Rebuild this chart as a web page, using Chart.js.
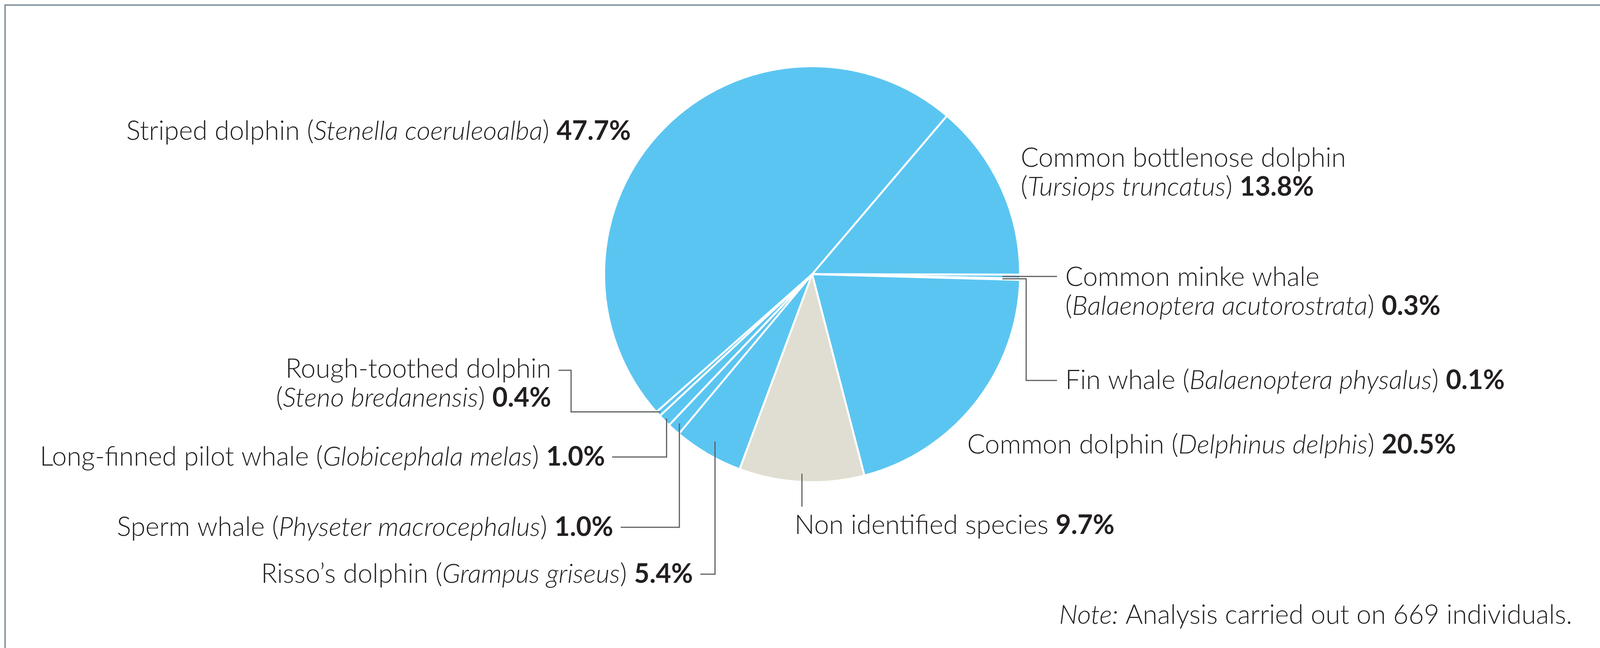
<!DOCTYPE html>
<html>
<head>
<meta charset="utf-8">
<title>Cetacean species</title>
<script src="https://cdn.jsdelivr.net/npm/chart.js@4.4.1/dist/chart.umd.min.js"></script>
<style>
  html, body { margin: 0; padding: 0; background: #fff; overflow: hidden; }
  #frame {
    position: absolute; left: 11px; top: 11px; width: 4119px; height: 1700px;
    border: 4px solid #8a97a1; border-bottom: none; box-sizing: border-box;
  }
  #pie { position: absolute; left: 0; top: 0; }
</style>
</head>
<body>
<div id="frame"></div>
<canvas id="pie" width="4152" height="1659"></canvas>
<script>
// species, clockwise starting at the bottlenose slice
const commonNames = ['Common bottlenose dolphin', 'Common minke whale', 'Fin whale', 'Common dolphin',
    'Non identified species', 'Risso\u2019s dolphin', 'Sperm whale', 'Long-finned pilot whale',
    'Rough-toothed dolphin', 'Striped dolphin'];
const latinNames = ['Tursiops truncatus', 'Balaenoptera acutorostrata', 'Balaenoptera physalus', 'Delphinus delphis',
    '', 'Grampus griseus', 'Physeter macrocephalus', 'Globicephala melas',
    'Steno bredanensis', 'Stenella coeruleoalba'];
const shares = [13.8, 0.3, 0.1, 20.5, 9.7, 5.4, 1.0, 1.0, 0.4, 47.7];
const identified = [true, true, true, true, false, true, true, true, true, true];
const noteText = 'Analysis carried out on 669 individuals.';

const BLUE = '#5bc5f1';
const BEIGE = '#e0ded2';
const TEXT = '#231f20';
const LEADER = '#5f6062';
const FAMILY = 'Lato, "Open Sans", sans-serif';
const FS = 68;

// label placement (canvas px): align, anchor x, centre y of first line, break after common name
const labelPos = [
    { align: 'left', x: 2613, y: 405, wrap: true },
    { align: 'left', x: 2727, y: 710, wrap: true },
    { align: 'left', x: 2727, y: 974 },
    { align: 'left', x: 2476, y: 1139 },
    { align: 'left', x: 2034, y: 1345 },
    { align: 'right', x: 1774, y: 1470 },
    { align: 'right', x: 1570, y: 1350 },
    { align: 'right', x: 1549, y: 1170 },
    { align: 'right', x: 1411, y: 945, wrap: true },
    { align: 'right', x: 1615, y: 336 }
];
// leader lines, f = fraction of the radius where the line touches the slice
const leaders = [
    null,
    { kind: 'h', f: 0.915, x2: 2706 },
    { kind: 'elbow', f: 0.915, vx: 2627, ty: 974, x2: 2706 },
    null,
    { kind: 'v', f: 0.96, y2: 1297 },
    { kind: 'up', f: 0.93, ty: 1470, x2: 1793 },
    { kind: 'up', f: 0.96, ty: 1350, x2: 1589 },
    { kind: 'up', f: 0.985, ty: 1170, x2: 1567 },
    { kind: 'rough', f: 0.985, vx: 1462, ty: 948, x2: 1430 },
    null
];

function fontFor(style) {
    if (style === 'b') return '700 ' + FS + 'px ' + FAMILY;
    if (style === 'i') return 'italic 300 ' + FS + 'px ' + FAMILY;
    return '300 ' + FS + 'px ' + FAMILY;
}

function labelLines(i) {
    const value = [shares[i].toFixed(1) + '%', 'b'];
    if (!latinNames[i]) return [[[commonNames[i] + ' ', 'n'], value]];
    const latin = [['(', 'n'], [latinNames[i], 'i'], [') ', 'n'], value];
    if (labelPos[i].wrap) return [[[commonNames[i], 'n']], latin];
    return [[[commonNames[i] + ' ', 'n']].concat(latin)];
}

function drawRich(ctx, segs, x, y, align) {
    let total = 0;
    const widths = segs.map(s => {
        ctx.font = fontFor(s[1]);
        const w = ctx.measureText(s[0]).width;
        total += w;
        return w;
    });
    let cx = align === 'right' ? x - total : x;
    segs.forEach((s, k) => {
        ctx.font = fontFor(s[1]);
        ctx.fillText(s[0], cx, y);
        cx += widths[k];
    });
}

const labelPlugin = {
    id: 'pieLabels',
    afterDatasetsDraw(chart) {
        const ctx = chart.ctx;
        const arcs = chart.getDatasetMeta(0).data;
        ctx.save();
        // leader lines
        ctx.strokeStyle = LEADER;
        ctx.lineWidth = 3;
        arcs.forEach((arc, i) => {
            const l = leaders[i];
            if (!l) return;
            const p = arc.getProps(['x', 'y', 'startAngle', 'endAngle', 'outerRadius'], true);
            const a = (p.startAngle + p.endAngle) / 2;
            const px = p.x + Math.cos(a) * p.outerRadius * l.f;
            const py = p.y + Math.sin(a) * p.outerRadius * l.f;
            ctx.beginPath();
            ctx.moveTo(px, py);
            if (l.kind === 'h') {
                ctx.lineTo(l.x2, py);
            } else if (l.kind === 'elbow') {
                ctx.lineTo(l.vx, py);
                ctx.lineTo(l.vx, l.ty);
                ctx.lineTo(l.x2, l.ty);
            } else if (l.kind === 'v') {
                ctx.lineTo(px, l.y2);
            } else if (l.kind === 'up') {
                ctx.lineTo(px, l.ty);
                ctx.lineTo(l.x2, l.ty);
            } else if (l.kind === 'rough') {
                ctx.lineTo(l.vx, py);
                ctx.lineTo(l.vx, l.ty);
                ctx.lineTo(l.x2, l.ty);
            }
            ctx.stroke();
        });
        // labels
        ctx.fillStyle = TEXT;
        ctx.textBaseline = 'middle';
        ctx.textAlign = 'left';
        arcs.forEach((arc, i) => {
            const pos = labelPos[i];
            labelLines(i).forEach((line, k) => {
                drawRich(ctx, line, pos.x, pos.y + k * 74, pos.align);
            });
        });
        // note
        drawRich(ctx, [['Note:', 'i'], [' ' + noteText, 'n']], 4025, 1575, 'right');
        ctx.restore();
    }
};

new Chart(document.getElementById('pie'), {
    type: 'pie',
    data: {
        labels: commonNames,
        datasets: [{
            data: shares,
            backgroundColor: identified.map(k => k ? BLUE : BEIGE),
            borderColor: '#ffffff',
            borderWidth: 5
        }]
    },
    options: {
        responsive: false,
        devicePixelRatio: 1,
        animation: false,
        rotation: 40.4,
        layout: { padding: { left: 1544, right: 1538, top: 167, bottom: 422 } },
        plugins: {
            legend: { display: false },
            tooltip: { enabled: false }
        }
    },
    plugins: [labelPlugin]
});
</script>
</body>
</html>
